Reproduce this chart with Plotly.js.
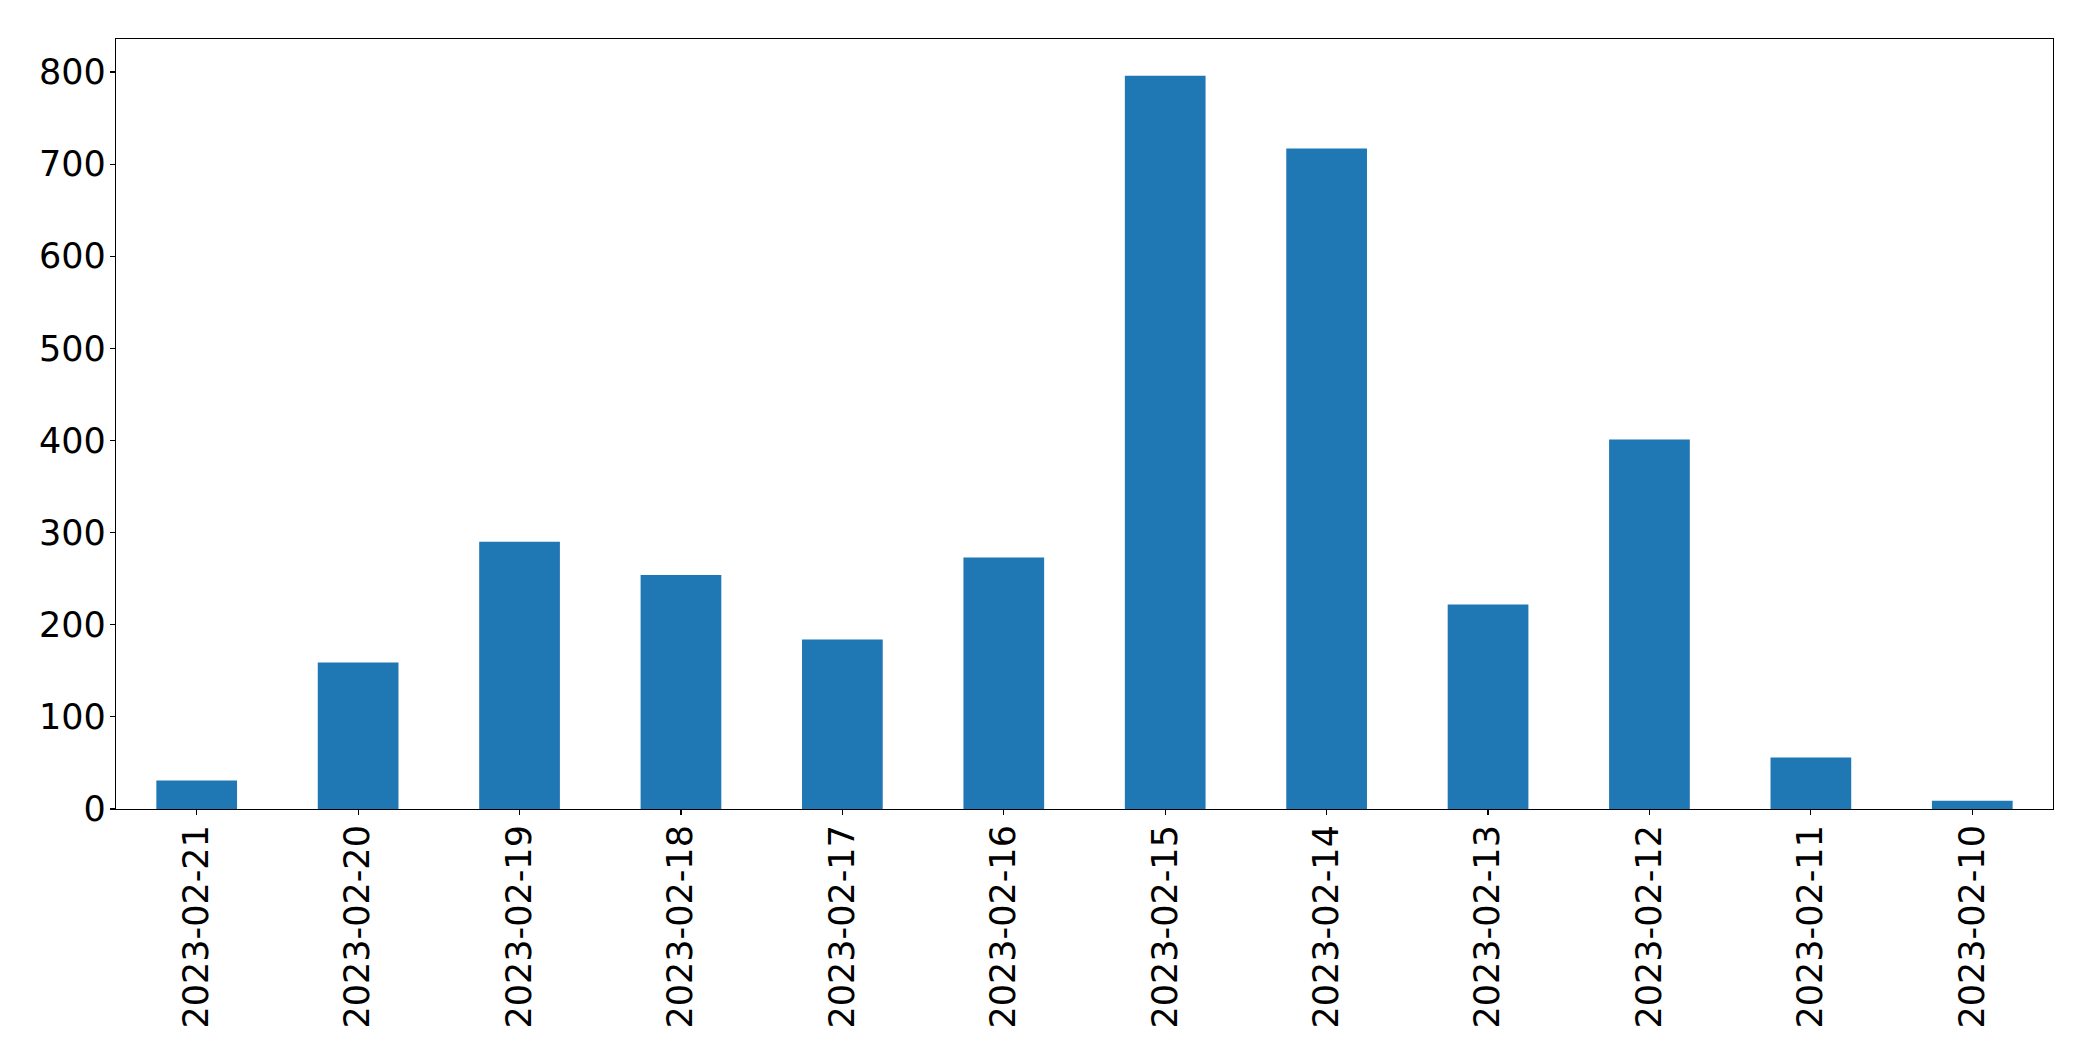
<!DOCTYPE html>
<html>
<head>
<meta charset="utf-8">
<script src="https://cdn.plot.ly/plotly-3.0.1.min.js"></script>
<style>
  html, body { margin: 0; padding: 0; background: #ffffff; }
  #chart { width: 2093px; height: 1061px; }
</style>
</head>
<body>
<div id="chart"></div>
<script>
const dates = ["2023-02-21", "2023-02-20", "2023-02-19", "2023-02-18", "2023-02-17", "2023-02-16",
               "2023-02-15", "2023-02-14", "2023-02-13", "2023-02-12", "2023-02-11", "2023-02-10"];
const counts = [31, 159, 290, 254, 184, 273, 796, 717, 222, 401, 56, 9];
const yTicks = [0, 100, 200, 300, 400, 500, 600, 700, 800];

const yMax = Math.max(...counts) * 1.05;

const trace = {
  type: "bar",
  x: dates,
  y: counts,
  width: 0.5,
  marker: { color: "#1f77b4", line: { width: 0 } },
  hoverinfo: "x+y"
};

const axisCommon = {
  showline: true,
  linecolor: "#000000",
  linewidth: 1.1,
  mirror: true,
  showgrid: false,
  zeroline: false,
  ticks: "outside",
  ticklen: 5,
  tickwidth: 1.1,
  tickcolor: "#000000",
  tickfont: { family: "DejaVu Sans", size: 35, color: "#000000" }
};

const layout = {
  width: 2093,
  height: 1061,
  margin: { l: 116, r: 40, t: 39, b: 252, pad: 0 },
  paper_bgcolor: "#ffffff",
  plot_bgcolor: "#ffffff",
  showlegend: false,
  xaxis: Object.assign({}, axisCommon, {
    type: "category",
    range: [-0.5, dates.length - 0.5],
    tickangle: -90,
    ticklabelstandoff: -4,
    automargin: false
  }),
  yaxis: Object.assign({}, axisCommon, {
    range: [0, yMax],
    tickmode: "array",
    tickvals: yTicks,
    ticktext: yTicks.map(String),
    ticklabelstandoff: -3,
    automargin: false
  })
};

Plotly.newPlot("chart", [trace], layout, { displayModeBar: false, staticPlot: true });
</script>
</body>
</html>
